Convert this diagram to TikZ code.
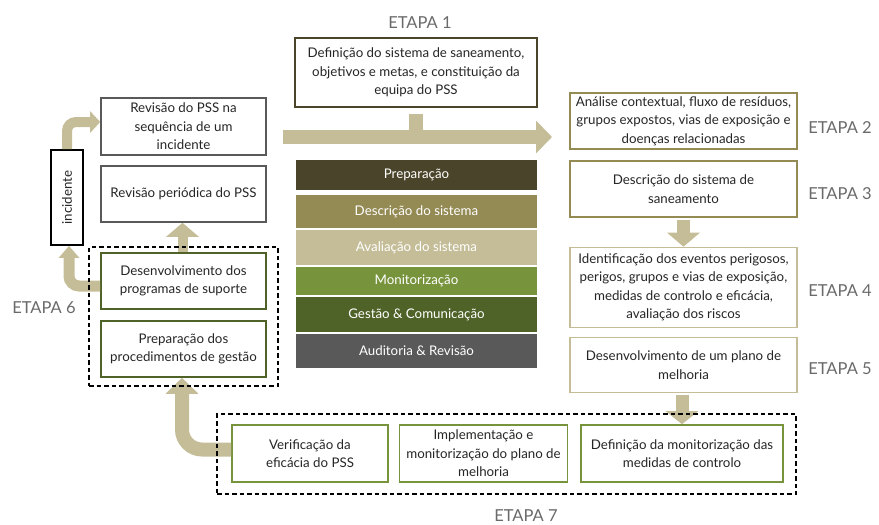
\documentclass[tikz,border=0pt]{standalone}
\usepackage{fontspec}
\setmainfont{Lato}
\usetikzlibrary{arrows.meta}
\definecolor{cPrep}{HTML}{4A452A}
\definecolor{cDesc}{HTML}{948A54}
\definecolor{cAval}{HTML}{C4BD97}
\definecolor{cMon}{HTML}{77933C}
\definecolor{cGest}{HTML}{4F6228}
\definecolor{cAud}{HTML}{595959}
\definecolor{cArr}{HTML}{C4BD97}
\definecolor{cTxt}{HTML}{262626}
\definecolor{cLab}{HTML}{6A6A6A}
\begin{document}
\begin{tikzpicture}[x=1pt,y=-1pt,
  font=\fontsize{13.3}{18.5}\selectfont,
  box/.style={draw=#1, line width=1.6pt, fill=white, inner sep=0pt, align=center, text=cTxt},
  band/.style={fill=#1, minimum width=241pt, inner sep=0pt, text=white},
  etapa/.style={font=\fontsize{16.5}{17}\selectfont, text=cLab, inner sep=0pt},
  blk/.style={draw=cArr, line width=#1},
  grp/.style={draw=black, line width=1.2pt, dash pattern=on 4.5pt off 3pt, inner sep=0pt}
]
\useasboundingbox (0,0) rectangle (879,525);

% ---- centre column
\node[box=cPrep, minimum width=242pt, minimum height=69pt] (e1) at (416,72.5)
  {Definição do sistema de saneamento,\\objetivos e metas, e constituição da\\equipa do PSS};
\node[band=cPrep, minimum height=30pt] (b1) at (416.5,175) {Preparação};
\node[band=cDesc, minimum height=33pt] (b2) at (416.5,211.5) {Descrição do sistema};
\node[band=cAval, minimum height=35pt] (b3) at (416.5,247.5) {Avaliação do sistema};
\node[band=cMon, minimum height=28pt] (b4) at (416.5,281) {Monitorização};
\node[band=cGest, minimum height=35pt] (b5) at (416.5,314.5) {Gestão \& Comunicação};
\node[band=cAud, minimum height=34pt] (b6) at (416.5,351) {Auditoria \& Revisão};

% ---- right column
\node[box=cDesc, minimum width=227pt, minimum height=56pt] (e2) at (683.5,121)
  {Análise contextual, fluxo de resíduos,\\grupos expostos, vias de exposição e\\doenças relacionadas};
\node[box=cDesc, minimum width=227pt, minimum height=56pt] (e3) at (683.5,189)
  {Descrição do sistema de\\saneamento};
\node[box=cAval, minimum width=227pt, minimum height=80pt] (e4) at (683.5,287.5)
  {Identificação dos eventos perigosos,\\perigos, grupos e vias de exposição,\\medidas de controlo e eficácia,\\avaliação dos riscos};
\node[box=cAval, minimum width=227pt, minimum height=55pt] (e5) at (683.5,365)
  {Desenvolvimento de um plano de\\melhoria};

% ---- bottom row
\node[box=cMon, minimum width=156pt, minimum height=57pt] (g1) at (310,453.5)
  {Verificação da\\eficácia do PSS};
\node[box=cMon, minimum width=168pt, minimum height=57pt] (g2) at (483.5,453.5)
  {Implementação e\\monitorização do plano de\\melhoria};
\node[box=cMon, minimum width=202pt, minimum height=57pt] (g3) at (682,453.5)
  {Definição da monitorização das\\medidas de controlo};

% ---- left column
\node[box=cAud, minimum width=165pt, minimum height=57pt] (r1) at (183.5,126.5)
  {Revisão do PSS na\\sequência de um\\incidente};
\node[box=cAud, minimum width=165pt, minimum height=56pt] (r2) at (183.5,194)
  {Revisão periódica do PSS};
\node[box=cGest, minimum width=165pt, minimum height=56pt] (dev) at (183.5,281)
  {Desenvolvimento dos\\programas de suporte};
\node[box=cGest, minimum width=165pt, minimum height=56pt] (prep) at (183.5,349)
  {Preparação dos\\procedimentos de gestão};
\node[draw=black, line width=1.8pt, fill=white, minimum width=32pt, minimum height=95pt, inner sep=0pt] (inc) at (67,197.5) {};
\node[rotate=90, text=cTxt, inner sep=0pt] (inclab) at (inc.center) {incidente};

% ---- stage labels
\node[etapa] (l1) at (420,22.5) {ETAPA 1};
\node[etapa] (l2) at (840,127.5) {ETAPA 2};
\node[etapa] (l3) at (840,194) {ETAPA 3};
\node[etapa] (l4) at (840,291) {ETAPA 4};
\node[etapa] (l5) at (840,369) {ETAPA 5};
\node[etapa] (l6) at (44,307.5) {ETAPA 6};
\node[etapa] (l7) at (526,516) {ETAPA 7};

% ---- block arrows
\coordinate (bigA) at (283,137);
\coordinate (bigB) at (552,137);
\draw[blk=14pt, -{Triangle[width=32pt,length=16pt]}] (bigA) -- (bigB);
\draw[blk=14pt] ([yshift=-6pt]e1.south) -- (e1.south |- bigA);
\draw[blk=13pt, -{Triangle[width=32pt,length=14pt]}, shorten <=2pt] (e4.north |- e3.south) -- (e4.north);
\draw[blk=13pt, -{Triangle[width=32pt,length=13pt]}, shorten <=2pt] (g3.north |- e5.south) -- (g3.north);
\draw[blk=10pt, -{Triangle[width=32pt,length=14pt]}] ([xshift=-1pt]dev.north) -- ([xshift=-1pt]r2.south);
\draw[blk=10pt, rounded corners=9pt, -{Triangle[width=21pt,length=10pt]}] (inc.north) |- ([yshift=4.5pt]r1.west);
\draw[blk=11pt, rounded corners=10pt, -{Triangle[width=20pt,length=12pt]}] ([yshift=-5pt]dev.west) -| ([xshift=2pt]inc.south);
\draw[blk=14pt, rounded corners=20pt, -{Triangle[width=32pt,length=16pt]}] ([yshift=4pt]g1.west) -| ([xshift=-1.5pt]prep.south);

% ---- dashed groups
\node[grp, minimum width=189pt, minimum height=139pt] (grp6) at (183.5,316.5) {};
\node[grp, minimum width=579pt, minimum height=80pt] (grp7) at (506.5,454) {};
\end{tikzpicture}
\end{document}
